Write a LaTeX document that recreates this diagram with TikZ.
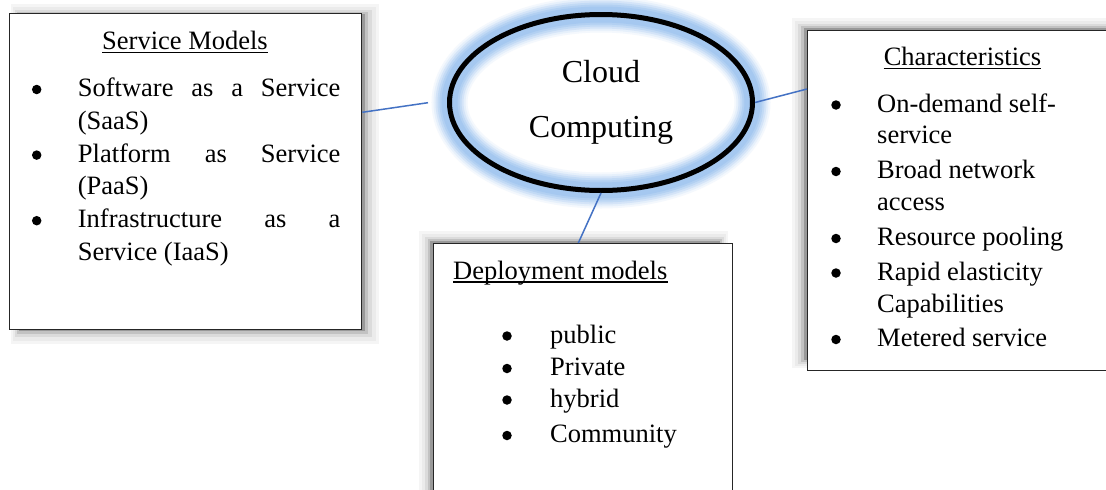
\documentclass[tikz,border=0pt]{standalone}
\usepackage{fontspec}
\setmainfont{Liberation Serif}
\usetikzlibrary{shapes.geometric,calc}
\definecolor{connc}{RGB}{68,114,196}
\definecolor{glowc}{RGB}{165,200,240}
\tikzset{
  boxframe/.style={draw=black!85, line width=1.3pt, fill=white, inner sep=0pt, anchor=north west},
  txt/.style={inner sep=0pt, anchor=base west, font=\fontsize{26.5}{32}\selectfont},
  ttl/.style={inner sep=0pt, anchor=base, font=\fontsize{26.5}{32}\selectfont},
  bigtxt/.style={inner sep=0pt, anchor=base, font=\fontsize{32}{38}\selectfont},
  connector/.style={draw=connc, line width=1.5pt},
  uline/.style={line width=1.1pt},
  bul/.style={circle, fill=black, inner sep=0pt, minimum size=9.5pt},
}
\begin{document}
\begin{tikzpicture}[x=1pt,y=-1pt]
\useasboundingbox (0,0) rectangle (1106,490);
\fill[white] (0,0) rectangle (1106,490);

% ---------- shadows ----------
% service models (right / bottom)
\fill[black!4]  (11,4) rectangle (379,344);
\fill[black!8]  (13,7) rectangle (376,341);
\fill[black!14] (15,10) rectangle (372,337);
\fill[black!24] (17,12) rectangle (368,334);
\fill[black!40] (19,14) rectangle (365,331);
% characteristics (left / top)
\fill[black!4]  (792,18) rectangle (1120,368);
\fill[black!8]  (795,21) rectangle (1120,366);
\fill[black!14] (798,24) rectangle (1120,364);
\fill[black!24] (801,26) rectangle (1120,362);
\fill[black!40] (804,28) rectangle (1120,360);
% deployment (left / top)
\fill[black!4]  (419,231) rectangle (728,500);
\fill[black!8]  (422,234) rectangle (726,500);
\fill[black!14] (425,237) rectangle (724,500);
\fill[black!24] (428,239) rectangle (722,500);
\fill[black!40] (430,241) rectangle (720,500);

% ---------- boxes ----------
\node[boxframe, minimum width=352pt, minimum height=316pt] (sm) at (9,13) {};
\node[boxframe, minimum width=312pt, minimum height=340pt] (ch) at (807,30) {};
\node[boxframe, minimum width=299pt, minimum height=260pt] (dp) at (433,243) {};

% ---------- central ellipse with glow ----------
\foreach \w/\c in {36/12, 32/28, 28/48, 24/68, 20/85, 16/100}
  \draw[glowc!\c, line width=\w pt] (601,102.5) ellipse [x radius=151.5pt, y radius=88pt];
\node[ellipse, draw=black, line width=5pt, minimum width=303pt, minimum height=176pt, inner sep=0pt] (cc) at (601,102.5) {};
\node[bigtxt] (cc1) at (601,82) {Cloud};
\node[bigtxt] (cc2) at (601,137) {Computing};

% ---------- connectors ----------
\coordinate (lend) at (428,102.7);
\draw[connector] ($(sm.north east)+(0,99.3)$) -- (lend);
\draw[connector] (cc.east) -- ($(ch.north west)+(0,59)$);
\draw[connector] (cc.south) -- ($(dp.north west)+(145.3,0)$);

% ---------- Service Models ----------
\node[ttl] (smt) at (185,49.5) {Service Models};
\draw[uline] ([yshift=-3pt]smt.base west) -- ([yshift=-3pt]smt.base east);
\node[txt] (s1) at (77.7,96.5) {\makebox[262.5pt][l]{Software\hfill as\hfill a\hfill Service}};
\node[txt] (s2) at (77.7,129.3) {(SaaS)};
\node[txt] (s3) at (77.7,162.1) {\makebox[262.5pt][l]{Platform\hfill as\hfill Service}};
\node[txt] (s4) at (77.7,194.9) {(PaaS)};
\node[txt] (s5) at (77.7,227.7) {\makebox[262.5pt][l]{Infrastructure\hfill as\hfill a}};
\node[txt] (s6) at (77.7,260.5) {Service (IaaS)};
\node[bul] (sb1) at (36.7,89.5) {};
\node[bul] (sb2) at (36.7,155.1) {};
\node[bul] (sb3) at (36.7,220.7) {};

% ---------- Characteristics ----------
\node[ttl] (cht) at (962.5,65) {Characteristics};
\draw[uline] ([yshift=-3.5pt]cht.base west) -- ([yshift=-3.5pt]cht.base east);
\node[txt] (c1) at (877,112) {On-demand self-};
\node[txt] (c2) at (877,143.5) {service};
\node[txt] (c3) at (877,178.5) {Broad network};
\node[txt] (c4) at (877,210) {access};
\node[txt] (c5) at (877,245.5) {Resource pooling};
\node[txt] (c6) at (877,280) {Rapid elasticity};
\node[txt] (c7) at (877,312) {Capabilities};
\node[txt] (c8) at (877,346.5) {Metered service};
\node[bul] (cb1) at (836,105) {};
\node[bul] (cb2) at (836,171.5) {};
\node[bul] (cb3) at (836,238.5) {};
\node[bul] (cb4) at (836,273) {};
\node[bul] (cb5) at (836,339.5) {};

% ---------- Deployment models ----------
\node[txt] (dpt) at (453,279) {Deployment models};
\draw[uline] ([yshift=-3pt]dpt.base west) -- ([yshift=-3pt]dpt.base east);
\node[txt] (d1) at (550,343) {public};
\node[txt] (d2) at (550,375.5) {Private};
\node[txt] (d3) at (550,407) {hybrid};
\node[txt] (d4) at (550,442.5) {Community};
\node[bul] (db1) at (507,336) {};
\node[bul] (db2) at (507,368.5) {};
\node[bul] (db3) at (507,400) {};
\node[bul] (db4) at (507,435.5) {};
\end{tikzpicture}
\end{document}
